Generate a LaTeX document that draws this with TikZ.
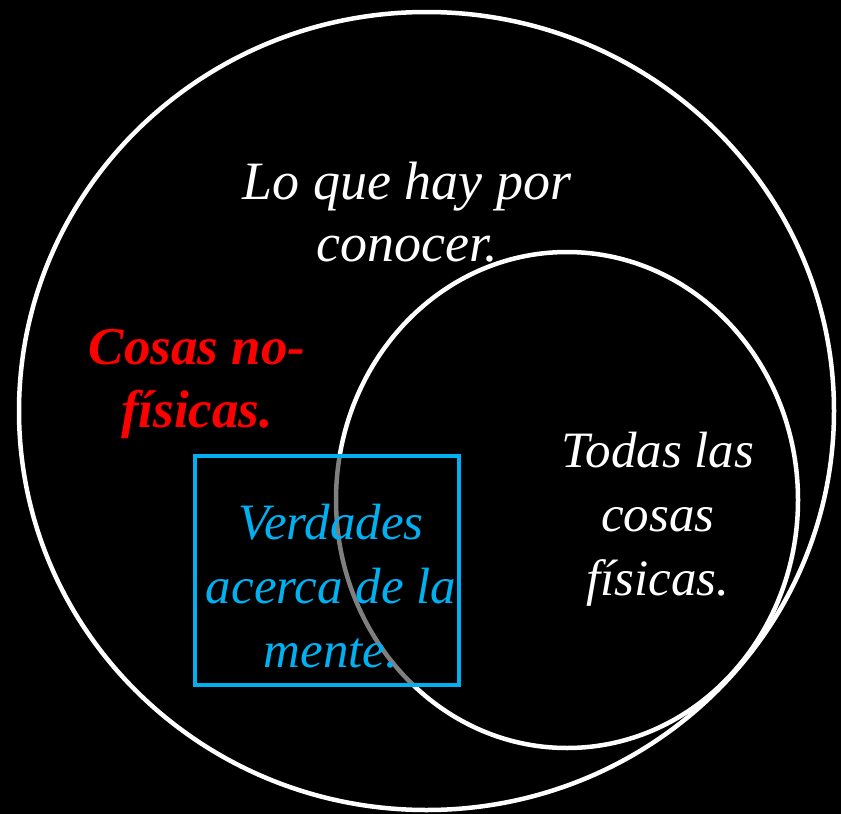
\documentclass[tikz,border=0pt]{standalone}
\usepackage{fontspec}
\setmainfont{Liberation Serif}
\usetikzlibrary{positioning}
\definecolor{mentecyan}{HTML}{00B0F0}

\begin{document}
\begin{tikzpicture}[x=1pt, y=-1pt,
  ring/.style={draw=white, line width=4.5pt},
  every node/.style={align=center, inner sep=0pt}]
  % Background and frame of the page
  \fill[black] (0,0) rectangle (841,814);
  \useasboundingbox (0,0) rectangle (841,814);

  % Everything there is to know
  \draw[ring] (426.5,411) ellipse [x radius=407.5, y radius=399];
  \node[white, font=\fontsize{54}{62}\selectfont\itshape] (conocer) at (407,212) {Lo que hay por\\conocer.};

  % Physical things
  \draw[ring] (567,500) ellipse [x radius=231, y radius=248];
  \node[white, font=\fontsize{51}{64}\selectfont\itshape] (fisicas) at (658,519) {Todas las\\cosas\\físicas.};

  % Non-physical things
  \node[red, font=\fontsize{53}{63}\selectfont\bfseries\itshape] (nofisicas) at (197,384) {Cosas no-\\físicas.};

  % Truths about the mind
  \fill[black, opacity=0.5] (195,456) rectangle (459,685);
  \draw[mentecyan, line width=4.5pt] (195,456) rectangle (459,685);
  \node[mentecyan, font=\fontsize{51}{64}\selectfont\itshape] (mente) at (331,586) {Verdades\\acerca de la\\mente.};
\end{tikzpicture}
\end{document}
